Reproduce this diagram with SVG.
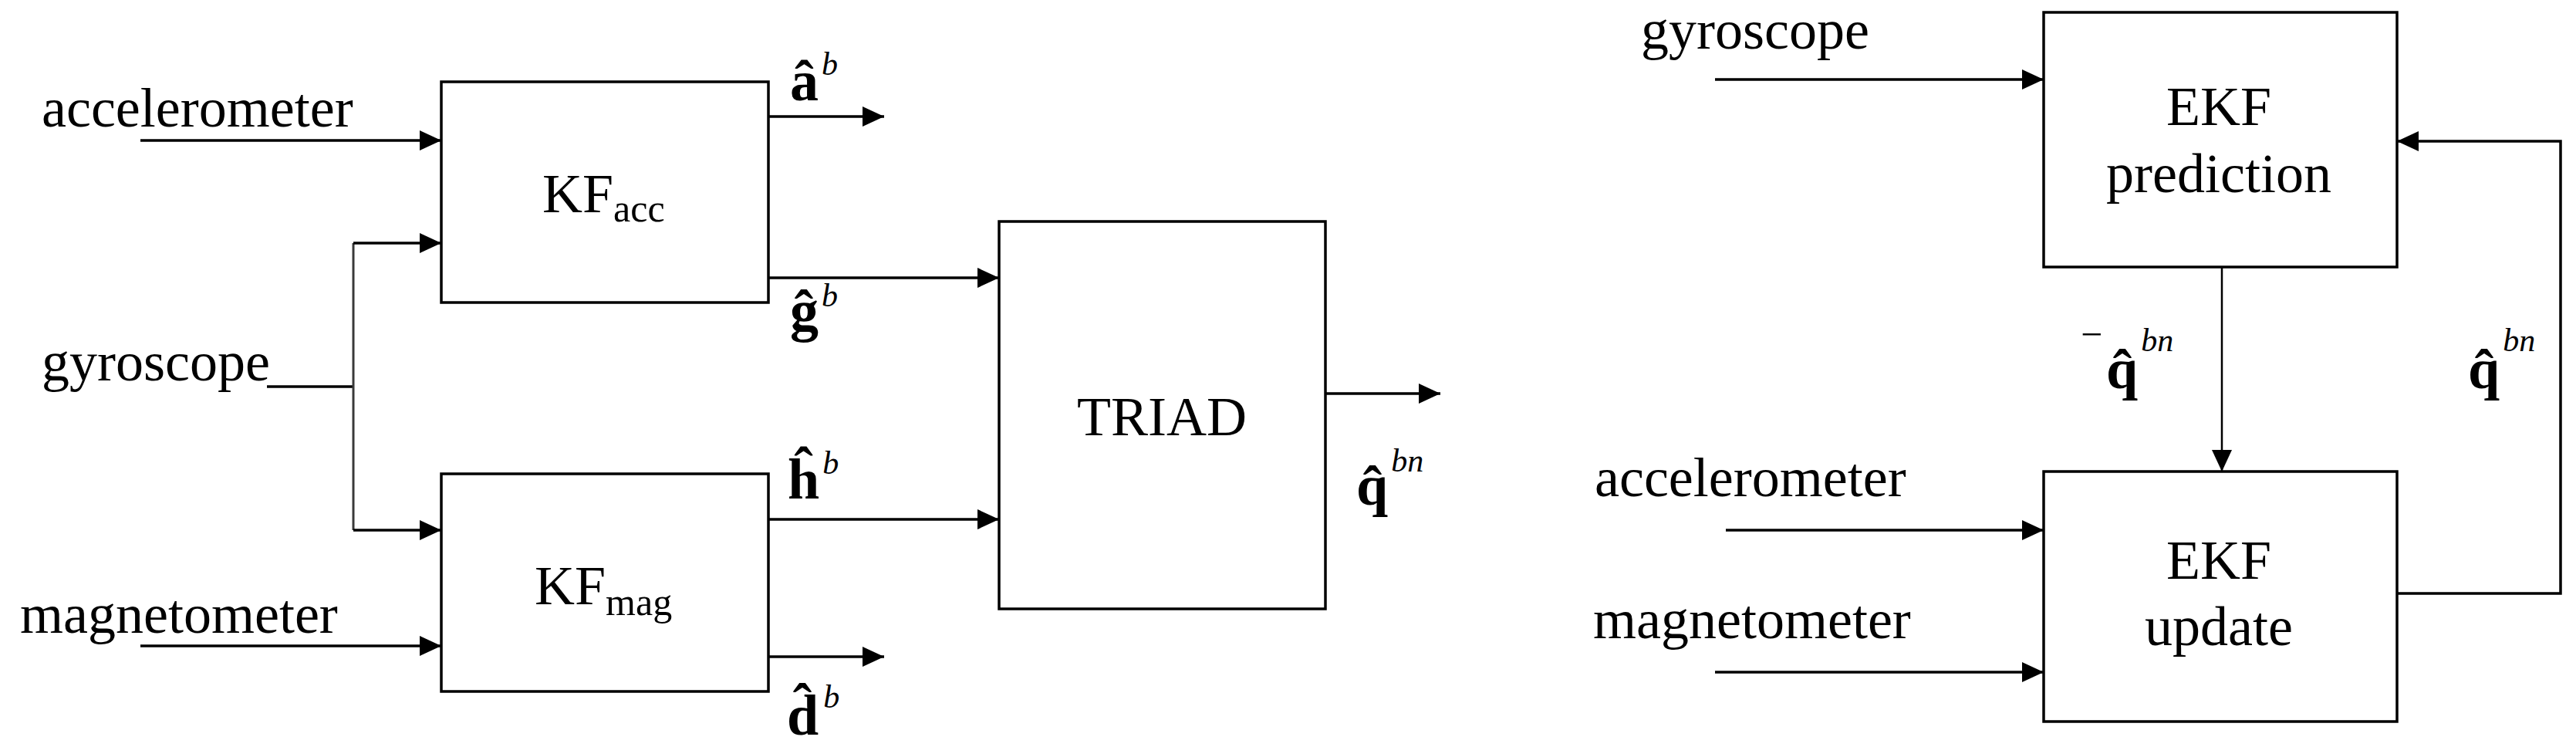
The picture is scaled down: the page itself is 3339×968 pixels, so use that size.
<svg xmlns="http://www.w3.org/2000/svg" width="3339" height="968" viewBox="0 0 3339 968">
<style>
.box{fill:#fff;stroke:#000;stroke-width:3.5}
.ln{fill:none;stroke:#000;stroke-width:3.5}
.thin{fill:none;stroke:#000;stroke-width:2.5}
.gr{fill:none;stroke:#3a3a3a;stroke-width:3}
text{font-family:'Liberation Serif','Times New Roman',serif;fill:#000}
.t{font-size:72px}
.c{text-anchor:middle}
.sub{font-size:50px}
.v{font-size:74px;font-weight:bold}
.sup{font-size:42px;font-style:italic;font-weight:normal}
.mn{font-size:50px;font-weight:normal}
</style>
<defs>
<marker id="ah" markerUnits="userSpaceOnUse" markerWidth="28" markerHeight="26" refX="28" refY="13" orient="auto">
<path d="M0,0 L28,13 L0,26 z" fill="#000"/>
</marker>
</defs>
<rect width="3339" height="968" fill="#fff"/>

<g id="connectors">
<line class="ln" x1="182" y1="182" x2="572" y2="182" marker-end="url(#ah)"/>
<polyline class="ln" points="346,501 458,501"/>
<polyline class="gr" points="458,501 458,315"/>
<polyline class="gr" points="458,501 458,687"/>
<line class="ln" x1="458" y1="315" x2="572" y2="315" marker-end="url(#ah)"/>
<line class="ln" x1="458" y1="687" x2="572" y2="687" marker-end="url(#ah)"/>
<line class="ln" x1="182" y1="837" x2="572" y2="837" marker-end="url(#ah)"/>
<line class="ln" x1="996" y1="151" x2="1146" y2="151" marker-end="url(#ah)"/>
<line class="ln" x1="996" y1="360" x2="1295" y2="360" marker-end="url(#ah)"/>
<line class="ln" x1="996" y1="673" x2="1295" y2="673" marker-end="url(#ah)"/>
<line class="ln" x1="996" y1="851" x2="1146" y2="851" marker-end="url(#ah)"/>
<line class="ln" x1="1718" y1="510" x2="1867" y2="510" marker-end="url(#ah)"/>
<line class="ln" x1="2223" y1="103" x2="2649" y2="103" marker-end="url(#ah)"/>
<line class="thin" x1="2880" y1="346" x2="2880" y2="611" marker-end="url(#ah)"/>
<line class="ln" x1="2237" y1="687" x2="2649" y2="687" marker-end="url(#ah)"/>
<line class="ln" x1="2223" y1="871" x2="2649" y2="871" marker-end="url(#ah)"/>
<polyline class="ln" points="3107,769 3319,769 3319,183 3107,183" marker-end="url(#ah)"/>
</g>

<g id="inputs-left">
<text class="t" x="54" y="164">accelerometer</text>
<text class="t" x="54" y="493">gyroscope</text>
<text class="t" x="26" y="820">magnetometer</text>
</g>

<g id="kf-acc">
<rect class="box" x="572" y="106" width="424" height="286"/>
<text class="t" x="703" y="275">KF<tspan class="sub" y="287">acc</tspan></text>
</g>

<g id="kf-mag">
<rect class="box" x="572" y="614" width="424" height="282"/>
<text class="t" x="693" y="783">KF<tspan class="sub" y="797">mag</tspan></text>
</g>

<g id="label-a">
<text class="v" x="1024" y="130">â<tspan class="sup" dx="4" y="97">b</tspan></text>
</g>
<g id="label-g">
<text class="v" x="1024" y="428">ĝ<tspan class="sup" dx="4" y="397">b</tspan></text>
</g>
<g id="label-h">
<text class="v" x="1021" y="646">ĥ<tspan class="sup" dx="4" y="614">b</tspan></text>
</g>
<g id="label-d">
<text class="v" x="1020" y="952">d̂<tspan class="sup" dx="6" y="917">b</tspan></text>
</g>

<g id="triad">
<rect class="box" x="1295" y="287" width="423" height="502"/>
<text class="t c" x="1506" y="564">TRIAD</text>
</g>
<g id="label-q-triad">
<text class="v" x="1758" y="654">q̂<tspan class="sup" dx="4" y="611">bn</tspan></text>
</g>

<g id="inputs-right">
<text class="t" x="2127" y="63">gyroscope</text>
<text class="t" x="2067" y="643">accelerometer</text>
<text class="t" x="2065" y="827">magnetometer</text>
</g>

<g id="ekf-prediction">
<rect class="box" x="2649" y="16" width="458" height="330"/>
<text class="t c" x="2876" y="162">EKF</text>
<text class="t c" x="2876" y="249">prediction</text>
</g>

<g id="ekf-update">
<rect class="box" x="2649" y="611" width="458" height="324"/>
<text class="t c" x="2876" y="750">EKF</text>
<text class="t c" x="2876" y="836">update</text>
</g>

<g id="label-q-prior">
<text class="v" x="2697" y="503"><tspan class="mn" y="450">−</tspan><tspan x="2730" y="503">q̂</tspan><tspan class="sup" dx="4" y="455">bn</tspan></text>
</g>
<g id="label-q-post">
<text class="v" x="3199" y="503">q̂<tspan class="sup" dx="4" y="455">bn</tspan></text>
</g>
</svg>
